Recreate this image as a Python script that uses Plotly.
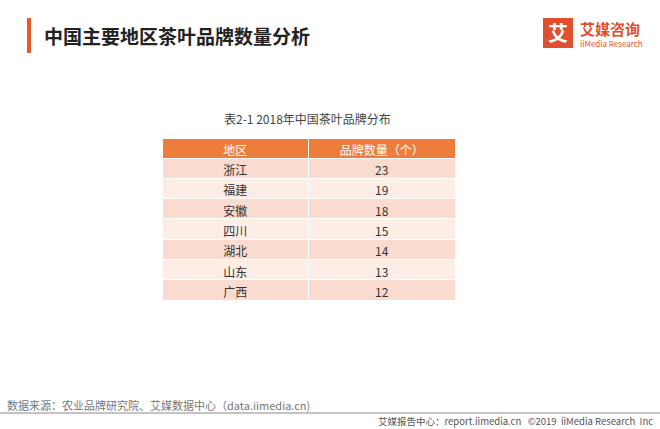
import plotly.graph_objects as go

regions = ["浙江", "福建", "安徽", "四川", "湖北", "山东", "广西"]
counts = [23, 19, 18, 15, 14, 13, 12]
headers = ["地区", "品牌数量（个）"]

W, H = 660, 429
F = "Noto Sans CJK SC"
row_colors = ["#F9DCCF" if i % 2 == 0 else "#FCEDE7" for i in range(len(regions))]

fig = go.Figure(go.Table(
    domain=dict(x=[162/W, 455/W], y=[0, 1-138/H]),
    columnwidth=[1, 1],
    header=dict(values=headers, fill_color="#EE7D3B", line_color="white", line_width=1,
                font=dict(family=F, size=12, color="white"), height=20, align="center"),
    cells=dict(values=[regions, counts], fill_color=[row_colors, row_colors],
               line_color="white", line_width=1,
               font=dict(family=F, size=12, color="#333333"), height=20.3, align="center"),
))

def px(x, y):
    return x / W, 1 - y / H

ann = []
def t(x, y, s, size, color, xanchor="left", bold=False):
    ax, ay = px(x, y)
    ann.append(dict(x=ax, y=ay, xref="paper", yref="paper", text=s, showarrow=False,
                    xanchor=xanchor, yanchor="middle",
                    font=dict(family=F, size=size, color=color, weight=700 if bold else 400)))

t(42, 35, "中国主要地区茶叶品牌数量分析", 19, "#222222", bold=True)
t(307, 118, "表2-1 2018年中国茶叶品牌分布", 12, "#444444", xanchor="center")
t(578, 28, "艾媒咨询", 15, "#E0502E", bold=True)
t(578, 43, "iiMedia Research", 8, "#E0502E")
t(558, 33, "艾", 20, "white", xanchor="center", bold=True)
t(5, 405, "数据来源：农业品牌研究院、艾媒数据中心（data.iimedia.cn)", 11, "#777777")
t(655, 421, "艾媒报告中心：report.iimedia.cn   ©2019  iiMedia Research  Inc", 9.5, "#555555", xanchor="right")

shapes = [
    dict(type="rect", xref="paper", yref="paper", x0=27/W, x1=31/W, y0=1-53/H, y1=1-18/H,
         fillcolor="#E85A2C", line_width=0),
    dict(type="rect", xref="paper", yref="paper", x0=543/W, x1=573/W, y0=1-48/H, y1=1-18/H,
         fillcolor="#E0502E", line_width=0),
    dict(type="line", xref="paper", yref="paper", x0=0, x1=1, y0=1-413/H, y1=1-413/H,
         line=dict(color="#888888", width=1)),
]

fig.update_layout(width=W, height=H, margin=dict(l=0, r=0, t=0, b=0),
                  paper_bgcolor="white", annotations=ann, shapes=shapes)
fig.write_html("out.html", config={"displayModeBar": False})

with open("out.html", encoding="utf-8") as f:
    html = f.read()
html = html.replace("<body>", '<body style="margin:0;overflow:hidden">', 1)
with open("out.html", "w", encoding="utf-8") as f:
    f.write(html)
